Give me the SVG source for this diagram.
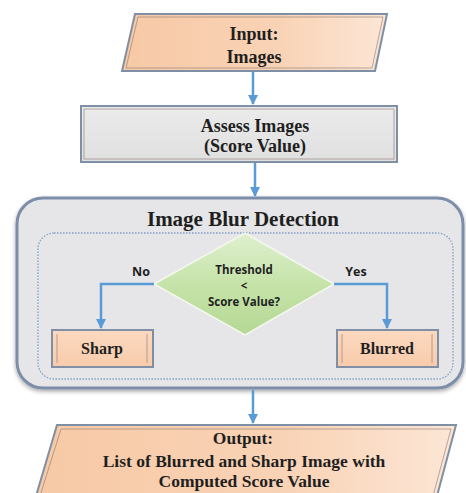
<svg xmlns="http://www.w3.org/2000/svg" width="466" height="493" viewBox="0 0 466 493">
  <defs>
    <linearGradient id="peach" x1="0" y1="0" x2="1" y2="0">
      <stop offset="0" stop-color="#f7c9a6"/>
      <stop offset="0.6" stop-color="#f9d3b6"/>
      <stop offset="1" stop-color="#fce6d6"/>
    </linearGradient>
    <linearGradient id="peachBox" x1="0" y1="0" x2="0" y2="1">
      <stop offset="0" stop-color="#fbd9c0"/>
      <stop offset="1" stop-color="#f8cbab"/>
    </linearGradient>
    <linearGradient id="green" x1="0" y1="0" x2="0" y2="1">
      <stop offset="0" stop-color="#dff0cf"/>
      <stop offset="0.5" stop-color="#c6e3a9"/>
      <stop offset="1" stop-color="#b5d894"/>
    </linearGradient>
    <linearGradient id="grey" x1="0" y1="0" x2="0" y2="1">
      <stop offset="0" stop-color="#ebebeb"/>
      <stop offset="1" stop-color="#e0e0e0"/>
    </linearGradient>
    <filter id="soft" x="-5%" y="-5%" width="110%" height="115%">
      <feGaussianBlur in="SourceAlpha" stdDeviation="2"/>
      <feOffset dx="0" dy="2"/>
      <feComponentTransfer><feFuncA type="linear" slope="0.35"/></feComponentTransfer>
      <feMerge><feMergeNode/><feMergeNode in="SourceGraphic"/></feMerge>
    </filter>
    <marker id="arrow" viewBox="0 0 10 10" refX="9" refY="5" markerWidth="4" markerHeight="4" orient="auto" markerUnits="strokeWidth">
      <path d="M0,0 L10,5 L0,10 z" fill="#5b9bd5"/>
    </marker>
  </defs>
  <style>
    .serif { font-family: "Liberation Serif", "Times New Roman", serif; font-weight: bold; fill: #1f1f1f; text-anchor: middle; }
    .sans { font-family: "Open Sans", "Liberation Sans", Arial, sans-serif; font-weight: bold; fill: #1f1f1f; text-anchor: middle; }
    .link { fill: none; stroke: #5b9bd5; stroke-width: 2.5; marker-end: url(#arrow); }
    .frame { stroke: #7f8fa6; stroke-width: 2; }
    .inner { fill: none; stroke: #8a7a70; stroke-width: 1; opacity: 0.6; }
  </style>

  <rect width="466" height="493" fill="#ffffff"/>

  <!-- input -->
  <g id="input">
    <polygon points="135,14 387,14 375,71 122,71" fill="url(#peach)" class="frame"/>
    <polygon points="138,17 383,17 372,68 126,68" class="inner"/>
    <text class="serif" x="254" y="40" font-size="18">Input:</text>
    <text class="serif" x="254" y="63" font-size="18">Images</text>
  </g>

  <!-- assess -->
  <g id="assess">
    <rect x="81" y="106" width="316" height="56" fill="url(#grey)" class="frame"/>
    <rect x="84" y="109" width="310" height="50" class="inner" stroke="#9a9a9a"/>
    <text class="serif" x="255" y="132" font-size="18">Assess Images</text>
    <text class="serif" x="255" y="152" font-size="18">(Score Value)</text>
  </g>

  <!-- detection container -->
  <g id="detection">
    <rect x="17" y="198" width="446" height="190" rx="26" ry="26" fill="#e6e6e8" stroke="#7d8ea8" stroke-width="3" filter="url(#soft)"/>
    <text class="serif" x="243" y="226" font-size="21">Image Blur Detection</text>
    <rect x="38" y="233" width="415" height="146" rx="16" ry="16" fill="none" stroke="#7fa0c8" stroke-width="1.3" stroke-dasharray="1.5 1.5"/>
  </g>

  <!-- decision -->
  <g id="decision">
    <polygon points="245,233 334,284 245,335 154,284" fill="url(#green)" stroke="#f4f8ef" stroke-width="1.5"/>
    <text class="sans" x="244" y="274" font-size="11.5">Threshold</text>
    <text class="sans" x="244" y="290" font-size="11.5">&lt;</text>
    <text class="sans" x="244" y="306" font-size="11.5">Score Value?</text>
  </g>

  <!-- sharp -->
  <g id="sharp">
    <rect x="52" y="330" width="101" height="37" fill="url(#peachBox)" class="frame"/>
    <line x1="57" y1="334" x2="57" y2="363" stroke="#b89a88" stroke-width="1"/>
    <line x1="147" y1="334" x2="147" y2="363" stroke="#b89a88" stroke-width="1"/>
    <text class="serif" x="102" y="354" font-size="16">Sharp</text>
  </g>

  <!-- blurred -->
  <g id="blurred">
    <rect x="337" y="330" width="101" height="37" fill="url(#peachBox)" class="frame"/>
    <line x1="342" y1="334" x2="342" y2="363" stroke="#b89a88" stroke-width="1"/>
    <line x1="432" y1="334" x2="432" y2="363" stroke="#b89a88" stroke-width="1"/>
    <text class="serif" x="387" y="354" font-size="16">Blurred</text>
  </g>

  <!-- output -->
  <g id="output">
    <polygon points="57,425 456,425 437,496 36,496" fill="url(#peach)" class="frame"/>
    <polygon points="61,429 451,429 433,496 40,496" class="inner"/>
    <text class="serif" x="243" y="444" font-size="17.5">Output:</text>
    <text class="serif" x="244" y="467" font-size="17.5">List of Blurred and Sharp Image with</text>
    <text class="serif" x="244" y="487" font-size="17.5">Computed Score Value</text>
  </g>

  <!-- connectors -->
  <g id="connectors">
    <line class="link" x1="253" y1="72" x2="253" y2="104"/>
    <line class="link" x1="255" y1="163" x2="255" y2="196"/>
    <polyline class="link" points="154,284 101,284 101,328"/>
    <polyline class="link" points="334,284 387,284 387,328"/>
    <line class="link" x1="253" y1="390" x2="253" y2="423"/>
    <text class="sans" x="141" y="276" font-size="12.5">No</text>
    <text class="sans" x="356" y="276" font-size="12.5">Yes</text>
  </g>
</svg>
